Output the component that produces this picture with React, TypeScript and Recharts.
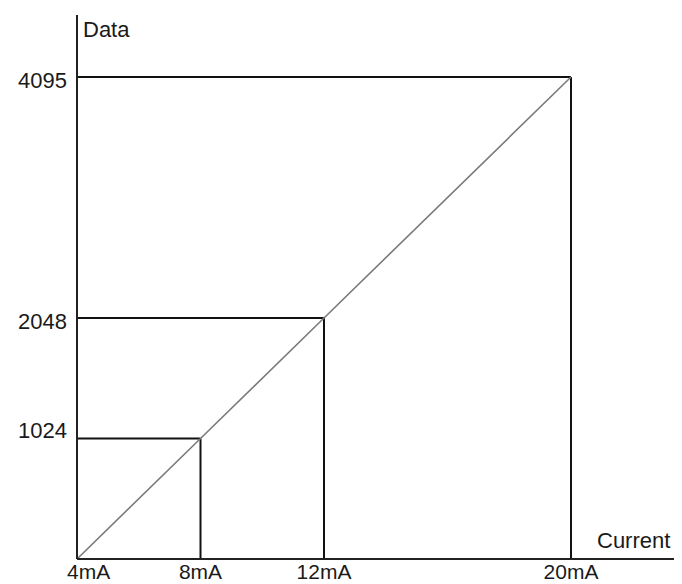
import { LineChart, Line, XAxis, YAxis, ReferenceLine } from "recharts";

const currents = [4, 8, 12, 20];
const dataValues = [0, 1024, 2048, 4095];
const xTicks = [4, 8, 12, 20];
const yTicks = [1024, 2048, 4095];

const points = currents.map((c, i) => ({ current: c, data: dataValues[i] }));

const FONT = "'Liberation Sans', Arial, sans-serif";
const INK = "#1a1a1a";

// small nudges so the tick text sits like in the original
const yTickDy: Record<number, number> = { 1024: -8, 2048: 3, 4095: 3 };

function XTick(props: any) {
  const { x, y, payload, index } = props;
  const first = index === 0;
  return (
    <text
      x={first ? x - 10 : x}
      y={y + 12}
      textAnchor={first ? "start" : "middle"}
      fontFamily={FONT}
      fontSize={21}
      fill={INK}
    >
      {`${payload.value}mA`}
    </text>
  );
}

function YTick(props: any) {
  const { x, y, payload } = props;
  return (
    <text
      x={x - 2}
      y={y + 8 + (yTickDy[payload.value] ?? 0)}
      textAnchor="end"
      fontFamily={FONT}
      fontSize={22}
      fill={INK}
    >
      {payload.value}
    </text>
  );
}

export default function App() {
  return (
    <div style={{ width: 674, height: 576, background: "#fff" }}>
      <LineChart
        width={674}
        height={576}
        data={points}
        margin={{ top: 7, right: 2, left: 0, bottom: 0 }}
      >
        <XAxis
          type="number"
          dataKey="current"
          domain={[4, 23.53]}
          ticks={xTicks}
          tickLine={false}
          axisLine={{ stroke: "#222", strokeWidth: 2 }}
          height={25}
          tick={<XTick />}
          allowDataOverflow
        />
        <YAxis
          type="number"
          dataKey="data"
          domain={[0, 4622]}
          ticks={yTicks}
          tickLine={false}
          axisLine={{ stroke: "#222", strokeWidth: 2 }}
          width={69}
          tick={<YTick />}
          allowDataOverflow
        />
        {currents.slice(1).map((c, i) => (
          <ReferenceLine
            key={`h${c}`}
            segment={[
              { x: currents[0], y: dataValues[i + 1] },
              { x: c, y: dataValues[i + 1] },
            ]}
            stroke="#111"
            strokeWidth={2}
          />
        ))}
        {currents.slice(1).map((c, i) => (
          <ReferenceLine
            key={`v${c}`}
            segment={[
              { x: c, y: 0 },
              { x: c, y: dataValues[i + 1] },
            ]}
            stroke="#111"
            strokeWidth={2}
          />
        ))}
        <Line
          type="linear"
          dataKey="data"
          stroke="#7a7a7a"
          strokeWidth={1.6}
          dot={false}
          isAnimationActive={false}
        />
        <text x={75} y={29} fontFamily={FONT} fontSize={22} fill={INK}>
          Data
        </text>
        <text x={589} y={540} fontFamily={FONT} fontSize={22} fill={INK}>
          Current
        </text>
      </LineChart>
    </div>
  );
}
